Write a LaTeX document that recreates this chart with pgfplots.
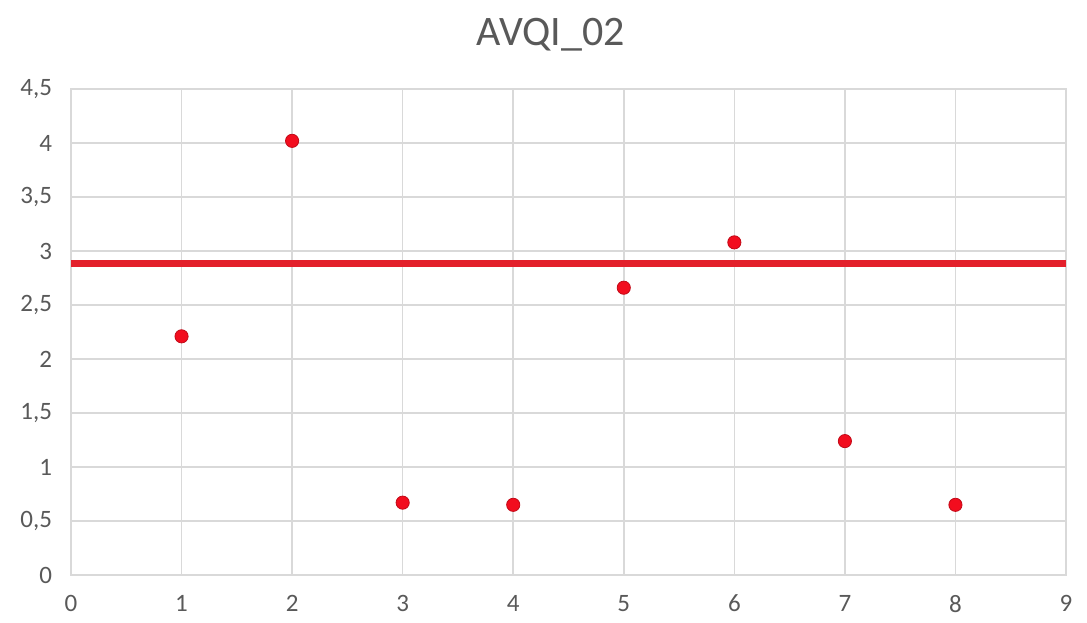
\documentclass[border=0pt]{standalone}
\usepackage{pgfplots}
\pgfplotsset{compat=1.18}
\usepackage{fontspec}
\setmainfont{Carlito}
\definecolor{gridgray}{HTML}{D9D9D9}
\definecolor{labelgray}{HTML}{595959}
\definecolor{dotred}{HTML}{F20D1E}
\definecolor{linered}{HTML}{E3202B}

\begin{document}
\begin{tikzpicture}
\begin{axis}[
  scale only axis,
  width=497.5pt, height=243pt,
  xmin=0, xmax=9, ymin=0, ymax=4.5,
  xtick={0,1,...,9},
  ytick={0,0.5,...,4.5},
  grid=major,
  major grid style={gridgray, line width=0.8pt},
  axis line style={gridgray, line width=0.8pt},
  tick style={draw=none},
  ticklabel style={font=\fontsize{12.5}{14}\selectfont, text=labelgray},
  yticklabel style={xshift=-6pt},
  xticklabel style={yshift=-6.5pt},
  /pgf/number format/assume math mode=true,
  /pgf/number format/use comma,
  clip=false,
]
% mean of the eight measurements
\addplot[linered, line width=3.5pt, forget plot] coordinates {(0,2.885) (9,2.885)};
% individual measurements
\addplot[only marks, mark=*, mark size=3.3pt, mark options={fill=dotred, draw=dotred!80!black, line width=0.4pt}]
  coordinates {
    (1,2.21)
    (2,4.02)
    (3,0.67)
    (4,0.65)
    (5,2.66)
    (6,3.08)
    (7,1.24)
    (8,0.65)
  };
\node[font=\fontsize{21}{24}\selectfont, text=labelgray] at (rel axis cs:0.4824,1) [yshift=27pt] {AVQI\_02};
\useasboundingbox ([xshift=-35.5pt,yshift=-23.5pt]rel axis cs:0,0) rectangle ([xshift=10.5pt,yshift=44.5pt]rel axis cs:1,1);
\end{axis}
\end{tikzpicture}
\end{document}
